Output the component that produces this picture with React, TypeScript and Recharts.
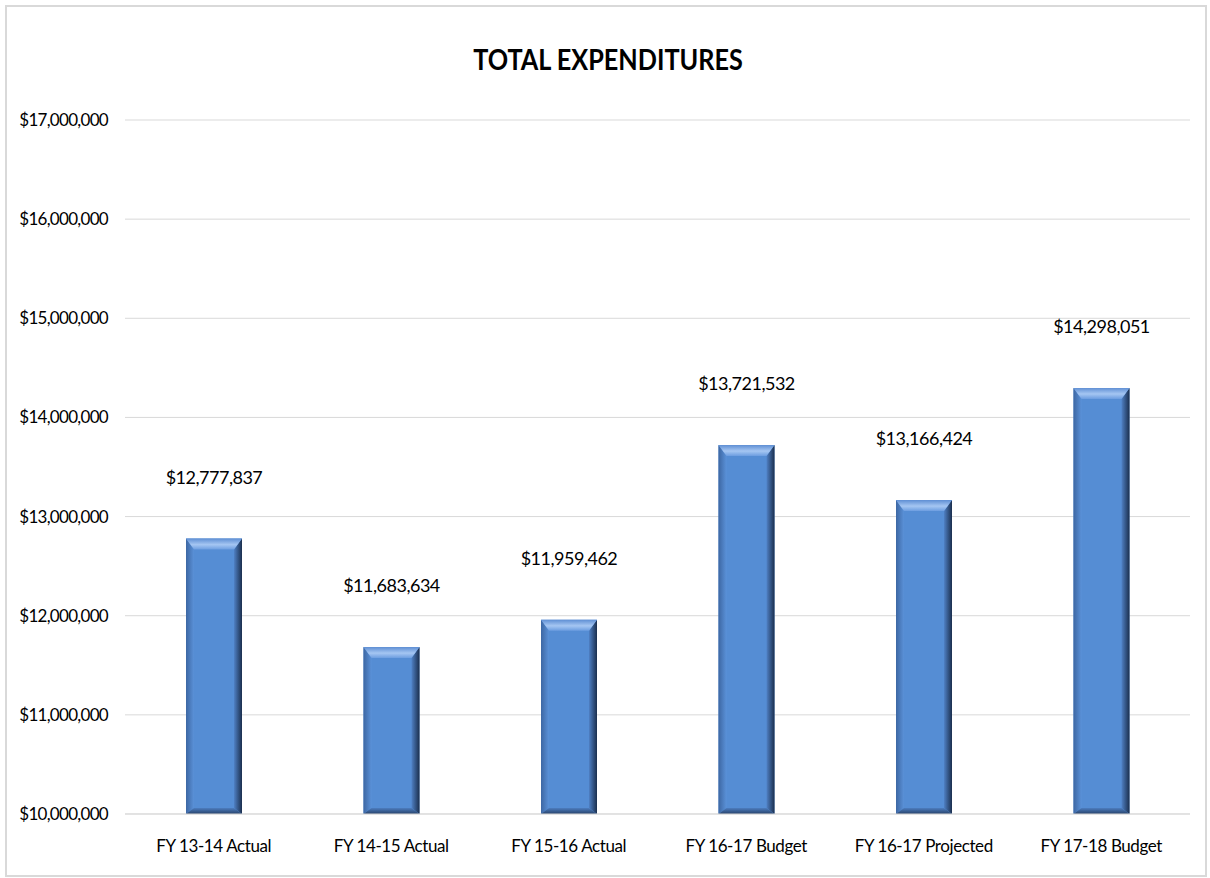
import React from 'react';
import { BarChart, Bar, XAxis, YAxis, CartesianGrid, LabelList } from 'recharts';

const categories = ['FY 13-14 Actual', 'FY 14-15 Actual', 'FY 15-16 Actual', 'FY 16-17 Budget', 'FY 16-17 Projected', 'FY 17-18 Budget'];
const expenditures = [12777837, 11683634, 11959462, 13721532, 13166424, 14298051];
const yTicks = [10000000, 11000000, 12000000, 13000000, 14000000, 15000000, 16000000, 17000000];

const data = categories.map((name, i) => ({ name, value: expenditures[i] }));

const font = "Lato, 'Open Sans', sans-serif";
const money = (v: number) => '$' + v.toLocaleString('en-US');

// excel-style bevelled bar
const BevelBar = (props: any) => {
  const x = Number(props.x);
  const y = Number(props.y);
  const w = Number(props.width);
  const h = Number(props.height);
  if (!(h > 0)) return null;
  const s = 8; // side bevel
  const t = 11; // top bevel
  const bt = 6; // bottom bevel
  return (
    <g>
      <path d={`M${x},${y}H${x + w}V${y + h}H${x}Z`} style={{ fill: '#558dd4' }} />
      <path d={`M${x},${y}L${x + s},${y + t}V${y + h - bt}L${x},${y + h}Z`} style={{ fill: 'url(#bvLeft)' }} />
      <path d={`M${x + w},${y}L${x + w - s},${y + t}V${y + h - bt}L${x + w},${y + h}Z`} style={{ fill: 'url(#bvRight)' }} />
      <path d={`M${x},${y}H${x + w}L${x + w - s},${y + t}H${x + s}Z`} style={{ fill: 'url(#bvTop)' }} />
      <path d={`M${x},${y + h}H${x + w}L${x + w - s},${y + h - bt}H${x + s}Z`} style={{ fill: 'url(#bvBottom)' }} />
    </g>
  );
};

export default function App() {
  return (
    <div style={{ position: 'absolute', left: 0, top: 0, width: 1210, height: 878, background: '#fff' }}>
      <div style={{ position: 'absolute', left: 5, top: 5, width: 1198, height: 868, border: '2px solid #d9d9d9' }} />
      <div
        style={{
          position: 'absolute',
          top: 41,
          left: 0,
          width: 1216,
          textAlign: 'center',
          fontFamily: font,
          fontWeight: 'bold',
          fontSize: 29,
          color: '#000',
        }}
      >
        <span style={{ display: 'inline-block', transform: 'scaleX(0.87)' }}>TOTAL EXPENDITURES</span>
      </div>
      <div style={{ position: 'absolute', left: 0, top: 0 }}>
        <BarChart width={1210} height={878} data={data} margin={{ top: 120, right: 20, bottom: 34, left: 0 }} barSize={56}>
          <defs>
            <linearGradient id="bvTop" x1="0" y1="0" x2="0" y2="1">
              <stop offset="0%" stopColor="#5f8fd4" />
              <stop offset="55%" stopColor="#a5c6f2" />
              <stop offset="100%" stopColor="#6c9de0" />
            </linearGradient>
            <linearGradient id="bvRight" x1="1" y1="0" x2="0" y2="0">
              <stop offset="0%" stopColor="#1b2f4e" />
              <stop offset="100%" stopColor="#4f80c4" />
            </linearGradient>
            <linearGradient id="bvLeft" x1="0" y1="0" x2="1" y2="0">
              <stop offset="0%" stopColor="#3d67a3" />
              <stop offset="100%" stopColor="#5a91d8" />
            </linearGradient>
            <linearGradient id="bvBottom" x1="0" y1="1" x2="0" y2="0">
              <stop offset="0%" stopColor="#27426a" />
              <stop offset="100%" stopColor="#4d7dbf" />
            </linearGradient>
          </defs>
          <CartesianGrid vertical={false} stroke="#d9d9d9" strokeWidth={1} />
          <XAxis
            dataKey="name"
            axisLine={{ stroke: '#d9d9d9' }}
            tickLine={false}
            tickSize={0}
            tickMargin={26}
            tick={{ fill: '#000', fontFamily: font, fontSize: 17, letterSpacing: -0.4 }}
            interval={0}
          />
          <YAxis
            width={125}
            domain={[10000000, 17000000]}
            ticks={yTicks}
            allowDataOverflow
            axisLine={false}
            tickLine={false}
            tickSize={0}
            tickMargin={17}
            tickFormatter={money}
            tick={{ fill: '#000', fontFamily: font, fontSize: 17, letterSpacing: -0.7 }}
          />
          <Bar dataKey="value" fill="#558dd4" shape={(p: any) => <BevelBar {...p} />} isAnimationActive={false}>
            <LabelList
              dataKey="value"
              position="top"
              offset={55}
              formatter={(v: any) => money(Number(v))}
              style={{ fill: '#000', fontFamily: font, fontSize: 18, letterSpacing: -0.5 }}
            />
          </Bar>
        </BarChart>
      </div>
    </div>
  );
}
